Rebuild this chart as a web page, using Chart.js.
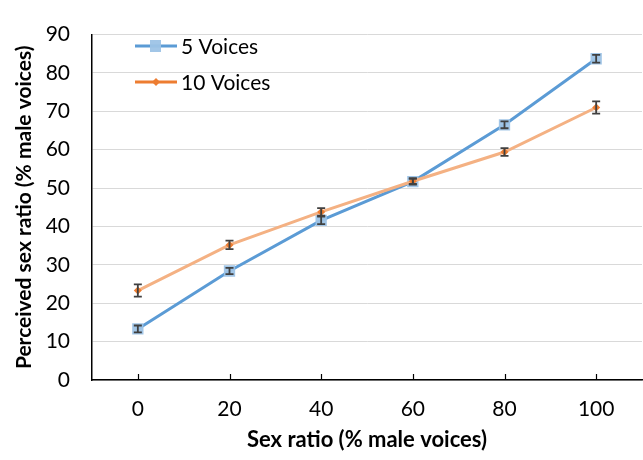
<!DOCTYPE html>
<html>
<head>
<meta charset="utf-8">
<script src="https://cdn.jsdelivr.net/npm/chart.js@4.4.1/dist/chart.umd.min.js"></script>
<style>
html,body{margin:0;padding:0;background:#fff;overflow:hidden;}
#wrap{position:absolute;left:0;top:0;width:650px;height:460px;}
</style>
</head>
<body>
<div id="wrap"><canvas id="c"></canvas></div>
<script>
const categories = ['0', '20', '40', '60', '80', '100'];
const voices5 = [13.3, 28.4, 41.6, 51.7, 66.5, 83.7];
const voices10 = [23.3, 35.2, 43.8, 51.8, 59.4, 71.0];
const err5 = [0.9, 0.8, 1.0, 0.8, 0.9, 1.0];
const err10 = [1.6, 1.1, 1.0, 0.7, 1.0, 1.6];
const seriesNames = ['5 Voices', '10 Voices'];
const yMin = 0, yMax = 90, yStep = 10;
const xTitle = 'Sex ratio (% male voices)';
const yTitle = 'Perceived sex ratio (% male voices)';

const FONT = 'Lato, "Open Sans", sans-serif';

const errorBars = {
  id: 'errorBars',
  afterDatasetsDraw(chart) {
    const ctx = chart.ctx, y = chart.scales.y;
    chart.data.datasets.forEach((ds, i) => {
      const meta = chart.getDatasetMeta(i);
      ctx.save();
      ctx.strokeStyle = '#404040';
      ctx.lineWidth = 1.8;
      meta.data.forEach((pt, j) => {
        const v = ds.data[j], e = ds.errors[j];
        const y1 = y.getPixelForValue(v + e), y2 = y.getPixelForValue(v - e);
        ctx.beginPath();
        ctx.moveTo(pt.x, y1); ctx.lineTo(pt.x, y2);
        ctx.moveTo(pt.x - 4, y1); ctx.lineTo(pt.x + 4, y1);
        ctx.moveTo(pt.x - 4, y2); ctx.lineTo(pt.x + 4, y2);
        ctx.stroke();
      });
      ctx.restore();
    });
  }
};

const innerTicks = {
  id: 'innerTicks',
  afterDraw(chart) {
    const ctx = chart.ctx, x = chart.scales.x, bottom = chart.chartArea.bottom;
    ctx.save();
    ctx.strokeStyle = '#000';
    ctx.lineWidth = 1.2;
    x.ticks.forEach((t, i) => {
      const px = Math.round(x.getPixelForTick(i)) + 0.5;
      ctx.beginPath();
      ctx.moveTo(px, bottom);
      ctx.lineTo(px, bottom - 6);
      ctx.stroke();
    });
    ctx.restore();
  }
};

const customLegend = {
  id: 'customLegend',
  afterDraw(chart) {
    const ctx = chart.ctx;
    chart.data.datasets.forEach((ds, i) => {
      const cy = 46 + i * 36;
      ctx.save();
      ctx.strokeStyle = ds.legendColor;
      ctx.lineWidth = 3;
      ctx.beginPath();
      ctx.moveTo(135, cy); ctx.lineTo(177, cy);
      ctx.stroke();
      ctx.fillStyle = ds.pointBackgroundColor;
      if (i === 0) {
        ctx.fillRect(150, cy - 6, 11, 12);
      } else {
        ctx.beginPath();
        ctx.moveTo(156, cy - 4); ctx.lineTo(160, cy); ctx.lineTo(156, cy + 4); ctx.lineTo(152, cy);
        ctx.closePath(); ctx.fill();
      }
      ctx.fillStyle = '#000';
      ctx.font = '21px ' + FONT;
      ctx.textBaseline = 'middle';
      ctx.textAlign = 'left';
      ctx.fillText(ds.label, 181, cy + 1);
      ctx.restore();
    });
  }
};

new Chart(document.getElementById('c'), {
  type: 'line',
  data: {
    labels: categories,
    datasets: [
      {
        label: seriesNames[0],
        data: voices5,
        errors: err5,
        borderColor: '#5B9BD5',
        legendColor: '#5B9BD5',
        borderWidth: 3,
        pointStyle: 'rect',
        pointRadius: 8,
        pointBackgroundColor: 'rgba(157,195,230,0.95)',
        pointBorderColor: 'rgba(157,195,230,0.95)',
        pointBorderWidth: 0,
        tension: 0,
        order: 1
      },
      {
        label: seriesNames[1],
        data: voices10,
        errors: err10,
        borderColor: '#F4B183',
        legendColor: '#ED7D31',
        borderWidth: 3,
        pointStyle: 'rectRot',
        pointRadius: 4,
        pointBackgroundColor: '#ED7D31',
        pointBorderColor: '#ED7D31',
        pointBorderWidth: 0,
        tension: 0,
        order: 0
      }
    ]
  },
  options: {
    responsive: true,
    maintainAspectRatio: false,
    animation: false,
    layout: { padding: { top: 19, right: 1, left: 0, bottom: 0 } },
    plugins: { legend: { display: false }, tooltip: { enabled: false } },
    scales: {
      x: {
        type: 'category',
        offset: true,
        grid: { display: false, drawTicks: false },
        border: { color: '#000', width: 1.5 },
        ticks: { color: '#000', font: { family: FONT, size: 21 }, padding: 17 },
        title: { display: true, text: xTitle, color: '#000', font: { family: FONT, size: 22, weight: 'bold' }, padding: { top: 0, bottom: 7 } },
        afterFit(s) { s.height = 80; }
      },
      y: {
        min: yMin, max: yMax,
        ticks: { stepSize: yStep, color: '#000', font: { family: FONT, size: 21 }, padding: 22 },
        grid: { color: '#D9D9D9', lineWidth: 1, drawTicks: false },
        border: { color: '#000', width: 1.5 },
        title: { display: true, text: yTitle, color: '#000', font: { family: FONT, size: 21, weight: 'bold' }, padding: { top: 12, bottom: 0 } },
        afterFit(s) { s.width = 92; }
      }
    }
  },
  plugins: [errorBars, innerTicks, customLegend]
});
</script>
</body>
</html>
